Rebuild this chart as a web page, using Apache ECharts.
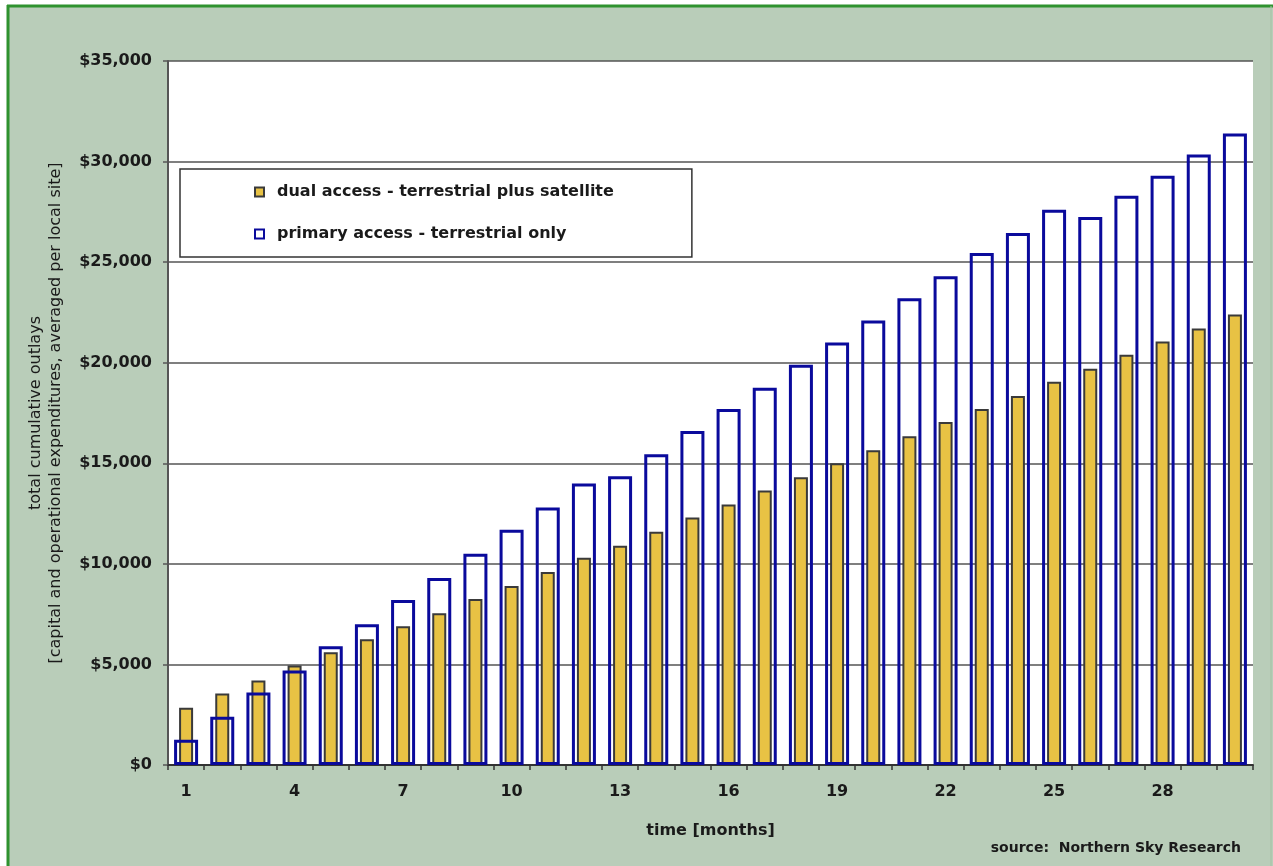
<!DOCTYPE html>
<html>
<head>
<meta charset="utf-8">
<script src="https://cdn.jsdelivr.net/npm/echarts@6/dist/echarts.min.js"></script>
<style>
  html, body { margin: 0; padding: 0; background: #ffffff; }
  #chart { width: 1273px; height: 866px; }
</style>
</head>
<body>
<div id="chart"></div>
<script>
// Months 1..30
const months = Array.from({ length: 30 }, (_, i) => String(i + 1));

// Cumulative outlays per local site, USD
const dualAccess = [
  2850, 3550, 4200, 4950, 5600, 6250, 6900, 7550, 8250, 8900,
  9600, 10300, 10900, 11600, 12300, 12950, 13650, 14300, 15000, 15650,
  16350, 17050, 17700, 18350, 19050, 19700, 20400, 21050, 21700, 22400
];
const primaryAccess = [
  1250, 2400, 3600, 4700, 5900, 7000, 8200, 9300, 10500, 11700,
  12800, 14000, 14350, 15450, 16600, 17700, 18750, 19900, 21000, 22100,
  23200, 24300, 25450, 26450, 27600, 27250, 28300, 29300, 30350, 31400
];

const seriesNames = [
  'dual access - terrestrial plus satellite',
  'primary access - terrestrial only'
];

const FONT = '"DejaVu Sans", Verdana, sans-serif';

// "$35,000" style money labels
function money(v) {
  return '$' + String(Math.round(v)).replace(/\B(?=(\d{3})+(?!\d))/g, ',');
}

const chart = echarts.init(document.getElementById('chart'), null, { renderer: 'canvas' });

chart.setOption({
  backgroundColor: '#ffffff',
  animation: false,
  textStyle: { fontFamily: FONT },
  graphic: [{
    type: 'rect', z: -100, silent: true,
    shape: { x: 8, y: 6, width: 1300, height: 900 },
    style: { fill: '#b9cdb9' }
  }, {
    type: 'line', z: -99, silent: true,
    shape: { x1: 8, y1: 5, x2: 8, y2: 866 },
    style: { stroke: '#2f922f', lineWidth: 3 }
  }, {
    type: 'line', z: -99, silent: true,
    shape: { x1: 7, y1: 6, x2: 1273, y2: 6 },
    style: { stroke: '#2f922f', lineWidth: 3 }
  }, {
    type: 'line', z: -99, silent: true,
    shape: { x1: 1271, y1: 6, x2: 1271, y2: 866 },
    style: { stroke: '#a3c2a3', lineWidth: 1 }
  }],
  title: {
    text: 'source:  Northern Sky Research',
    right: 27,
    top: 836,
    textStyle: { fontFamily: FONT, fontSize: 14, fontWeight: 'bold', color: '#1a1a1a' }
  },
  legend: {
    orient: 'vertical',
    left: 180,
    top: 169,
    padding: [15, 78, 15, 74],
    itemGap: 26,
    itemWidth: 9,
    itemHeight: 9,
    icon: 'rect',
    backgroundColor: '#ffffff',
    borderColor: '#333333',
    borderWidth: 1.5,
    data: seriesNames,
    textStyle: { fontFamily: FONT, fontSize: 16, fontWeight: 'bold', color: '#1a1a1a', padding: [0, 0, 0, 8] }
  },
  grid: {
    left: 168, right: 20, top: 61, bottom: 101,
    show: true,
    backgroundColor: '#ffffff',
    borderWidth: 0
  },
  xAxis: [{
    type: 'category',
    data: months,
    boundaryGap: true,
    name: 'time [months]',
    nameLocation: 'middle',
    nameGap: 58,
    nameTextStyle: { fontFamily: FONT, fontSize: 16, fontWeight: 'bold', color: '#1a1a1a' },
    axisLine: { show: true, lineStyle: { color: '#333333', width: 2 } },
    axisTick: { show: true, length: 5, interval: 0, lineStyle: { color: '#333333', width: 1.5 } },
    axisLabel: { interval: 2, margin: 19, fontFamily: FONT, fontSize: 16, fontWeight: 'bold', color: '#1a1a1a' },
    splitLine: { show: false }
  }, {
    type: 'category',
    data: months,
    boundaryGap: true,
    show: false
  }],
  yAxis: {
    type: 'value',
    min: 0,
    max: 35000,
    interval: 5000,
    name: 'total cumulative outlays\n[capital and operational expenditures, averaged per local site]',
    nameLocation: 'middle',
    nameGap: 102,
    nameTextStyle: { fontFamily: FONT, fontSize: 16, color: '#1a1a1a', lineHeight: 20 },
    axisLine: { show: true, lineStyle: { color: '#555555', width: 2 } },
    axisTick: { show: true, length: 5, lineStyle: { color: '#555555', width: 1.5 } },
    axisLabel: {
      margin: 16,
      fontFamily: FONT, fontSize: 16, fontWeight: 'bold', color: '#1a1a1a',
      formatter: money
    },
    splitLine: { show: true, lineStyle: { color: '#555555', width: 1.5 } }
  },
  series: [{
    name: seriesNames[0],
    type: 'bar',
    xAxisIndex: 1,
    data: dualAccess,
    barWidth: 14,
    itemStyle: { color: '#e8c244', borderColor: '#3a3a3a', borderWidth: 2 }
  }, {
    name: seriesNames[1],
    type: 'bar',
    xAxisIndex: 0,
    data: primaryAccess,
    barWidth: 24,
    itemStyle: { color: 'rgba(255,255,255,0)', borderColor: '#0a0a9c', borderWidth: 3 }
  }]
});
</script>
</body>
</html>
